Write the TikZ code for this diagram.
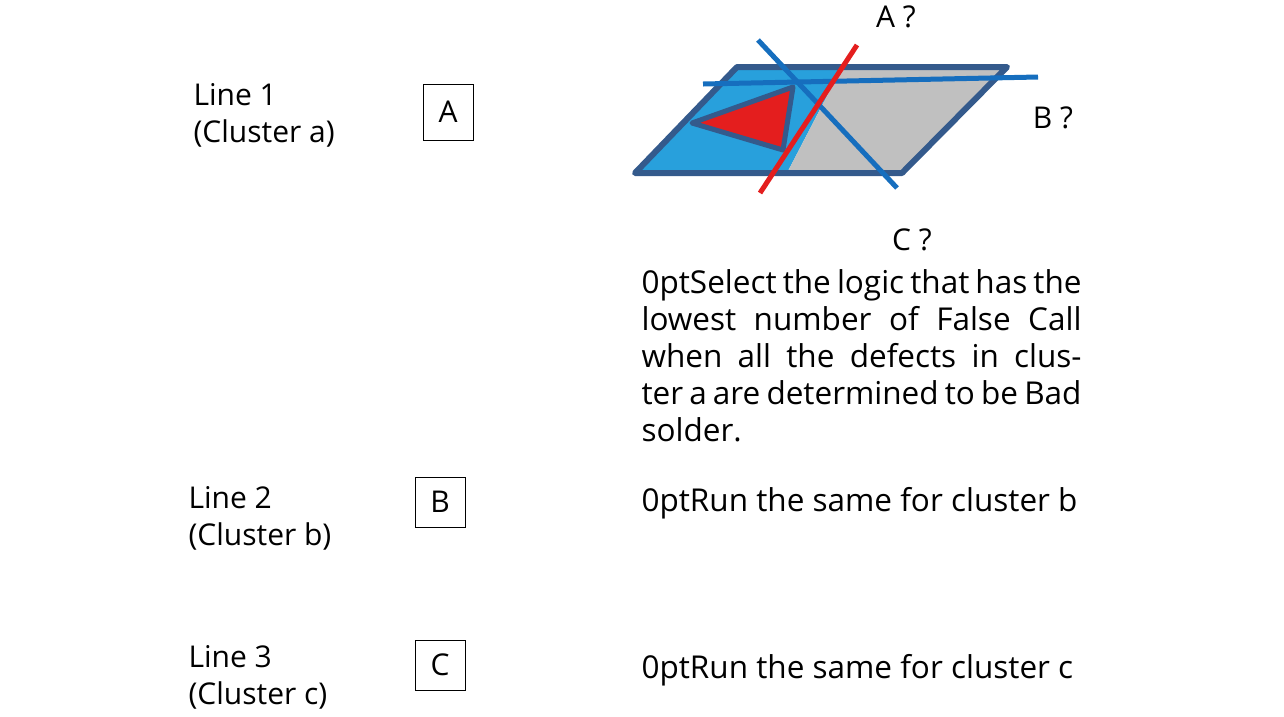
\documentclass[tikz,border=0pt]{standalone}
\usepackage{fontspec}
\setmainfont{Open Sans}
\usetikzlibrary{positioning}
\definecolor{edgeblue}{RGB}{52,90,140}
\definecolor{fillblue}{RGB}{40,160,220}
\definecolor{cutblue}{RGB}{22,110,190}
\definecolor{cutred}{RGB}{228,30,30}
\definecolor{plategray}{RGB}{192,192,192}
\begin{document}
\begin{tikzpicture}[x=1pt,y=-1pt]
  % Settings
  \tikzset{
    linelbl/.style={anchor=west, align=left, font=\fontsize{30}{37}\selectfont},
    logic/.style={draw, thick, minimum width=50pt, minimum height=56pt, font=\fontsize{30}{35}\selectfont},
    note/.style={anchor=north west, align=justify, text width=440pt, font=\fontsize{31.5}{37}\selectfont\hyphenpenalty=10000\relax\exhyphenpenalty=10000\relax},
    ask/.style={font=\fontsize{30}{35}\selectfont},
    cut/.style={line width=5pt},
  }
  \useasboundingbox (0,0) rectangle (1284,716);
  % Lines and logic boxes
  \node[linelbl] (l1) at (190,115) {Line 1\\(Cluster a)};
  \node[linelbl] (l2) at (185,518) {Line 2\\(Cluster b)};
  \node[linelbl] (l3) at (185,677) {Line 3\\(Cluster c)};
  \node[logic] (la) at (448,112) {A};
  \node[logic, minimum height=50pt] (lb) at (440,502) {B};
  \node[logic, minimum height=50pt] (lc) at (440,665) {C};
  % Plate
  \coordinate (p1) at (635,173);
  \coordinate (p2) at (902,173);
  \coordinate (p3) at (1007,67);
  \coordinate (p4) at (737,67);
  \fill[fillblue] (p1) -- (787,173) -- (842,67) -- (p4) -- cycle;
  \fill[plategray] (787,173) -- (p2) -- (p3) -- (842,67) -- cycle;
  \draw[edgeblue, line width=6pt, line join=round, line cap=round] (p1) -- (p2) -- (p3) -- (p4) -- cycle;
  \draw[edgeblue, line width=5pt, line join=round, fill=cutred] (692,123) -- (793,87) -- (783,150) -- cycle;
  % Cut lines
  \draw[cut, cutblue] (758,40) -- (897,188);
  \draw[cut, cutblue] (703,84) -- (1038,77);
  \draw[cut, cutred] (760,193) -- (857,45);
  \node[ask] (qa) at (896,17) {A ?};
  \node[ask] (qb) at (1053,118) {B ?};
  \node[ask] (qc) at (912,240) {C ?};
  % Notes
  \node[note] (n1) at (638,266) {Select the logic that has the lowest number of False Call when all the defects in cluster a are determined to be Bad solder.};
  \node[note, anchor=west] (n2) at (638,503) {Run the same for cluster b};
  \node[note, anchor=west] (n3) at (638,670) {Run the same for cluster c};
\end{tikzpicture}
\end{document}
